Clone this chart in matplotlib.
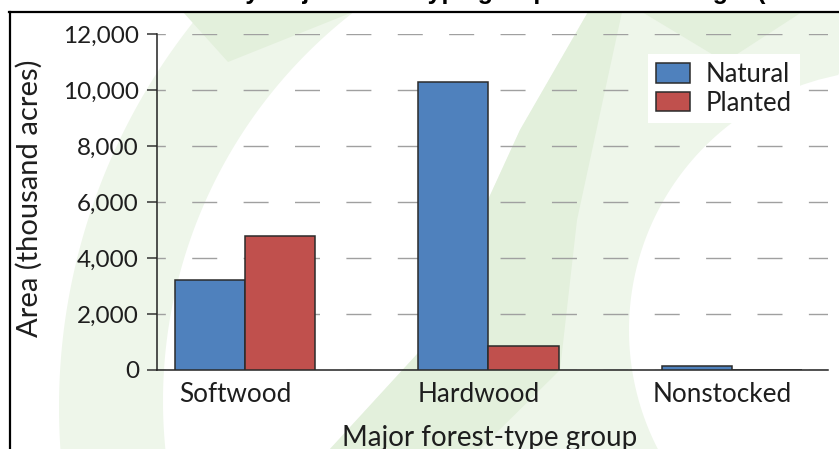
import numpy as np
import matplotlib
matplotlib.use("Agg")
import matplotlib.pyplot as plt
import matplotlib.transforms as mtransforms
from matplotlib.patches import Polygon
from matplotlib.lines import Line2D

# ---- data -------------------------------------------------------------
groups = ["Softwood", "Hardwood", "Nonstocked"]
natural = [3220, 10300, 140]
planted = [4790, 860, 0]
series_names = ["Natural", "Planted"]
yticks = [0, 2000, 4000, 6000, 8000, 10000, 12000]
title = "Area of timberland by major forest-type group and stand origin (thousand acres)"
ylabel = "Area (thousand acres)"
xlabel = "Major forest-type group"

# ---- figure -----------------------------------------------------------
W, H, DPI = 839, 449, 100
plt.rcParams["font.family"] = ["Lato", "DejaVu Sans"]
fig = plt.figure(figsize=(W / DPI, H / DPI), dpi=DPI)
TXT = "#1e1e1e"


def px(x, y):
    """top-left pixel coordinates -> figure fraction"""
    return (x / W, 1 - y / H)


def fig_poly(points, color):
    pts = [px(x, y) for x, y in points]
    p = Polygon(pts, closed=True, transform=fig.transFigure, facecolor=color,
                edgecolor="none", zorder=-5)
    fig.patches.append(p)


def arc_pts(cx, cy, r, y0, y1, n=80):
    ys = np.linspace(y0, y1, n)
    xs = cx - np.sqrt(np.clip(r ** 2 - (ys - cy) ** 2, 0, None))
    return list(zip(xs, ys))


# faint green watermark shapes behind the plot
light = "#eef6ea"
mid = "#e3f0dc"
# left sweeping band
outer = arc_pts(678, 407, 619, 12, 449)
inner = arc_pts(655, 401, 492, 449, 12)
fig_poly(outer + inner, light)
fig_poly([(183, 12), (353, 12), (228, 62)], mid)
# right sweeping band
right_edge = arc_pts(889, 330, 260, 449, 75)
left_edge = [(588, 12), (520, 130), (465, 250), (430, 340), (330, 449)]
fig_poly(left_edge + right_edge + [(839, 73), (839, 12)], light)
fig_poly([(588, 12), (622, 12), (577, 220), (560, 370), (480, 449), (330, 449),
          (430, 340), (465, 250), (520, 130)], mid)
fig_poly([(642, 12), (802, 12), (725, 62)], mid)

# frame lines (left and top)
fig.add_artist(Line2D([9.5 / W, 9.5 / W], [0, 1 - 12 / H], transform=fig.transFigure,
                      color="black", lw=1.6, zorder=5))
fig.add_artist(Line2D([9 / W, 1], [1 - 12 / H, 1 - 12 / H], transform=fig.transFigure,
                      color="black", lw=1.6, zorder=5))

# title, running past the top edge
fig.text(2 / W, 1 + 1.5 / H, title, ha="left", va="baseline", fontsize=18,
         fontweight="bold", family=["Liberation Sans", "DejaVu Sans"], color="black")

# ---- axes -------------------------------------------------------------
left, right, top, bottom = 157, 828, 34, 370
ax = fig.add_axes([left / W, 1 - bottom / H, (right - left) / W, (bottom - top) / H])
ax.set_zorder(2)
ax.set_facecolor("none")

x = np.arange(len(groups))
w = 0.2875
ax.bar(x - w / 2, natural, w, color="#4f81bd", edgecolor="#2b2b2b", linewidth=1.1,
       label=series_names[0], zorder=3)
ax.bar(x + w / 2, planted, w, color="#c0504d", edgecolor="#2b2b2b", linewidth=1.1,
       label=series_names[1], zorder=3)

ax.set_xlim(-0.361, 2.394)
ax.set_ylim(0, 12000)
ax.set_yticks(yticks)
ax.set_yticklabels([f"{v:,}" for v in yticks], fontsize=17.5, color=TXT)
ax.set_xticks(x)
ax.set_xticklabels(groups, fontsize=18.8, color=TXT)
ax.tick_params(axis="x", length=0, pad=9)
ax.tick_params(axis="y", length=7, width=1.1, color="#333333", pad=6)

# category names sit slightly left of the group centres
shift = mtransforms.ScaledTranslation(-10 / DPI, 0, fig.dpi_scale_trans)
for lab in ax.get_xticklabels():
    lab.set_transform(lab.get_transform() + shift)

ax.set_axisbelow(True)
ax.yaxis.grid(True, color="#a0a0a0", lw=1.0, linestyle=(12, (18, 19)))
ax.xaxis.grid(False)

for s in ("top", "right"):
    ax.spines[s].set_visible(False)
for s in ("left", "bottom"):
    ax.spines[s].set_color("#222222")
    ax.spines[s].set_linewidth(1.1)

# axis titles placed in figure pixels
fig.text(*px(29, 198), ylabel, rotation=90, ha="center", va="center",
         fontsize=21, color=TXT)
fig.text(*px(490, 446), xlabel, ha="center", va="baseline", fontsize=20, color=TXT)

leg = ax.legend(loc="upper left", bbox_to_anchor=px(648, 54), bbox_transform=fig.transFigure,
                fontsize=18.5, frameon=True, fancybox=False, framealpha=1,
                handlelength=1.35, handleheight=0.8, handletextpad=0.6,
                borderpad=0.3, labelspacing=0.15, borderaxespad=0)
leg.get_frame().set_edgecolor("none")
leg.get_frame().set_facecolor("white")
for t in leg.get_texts():
    t.set_color(TXT)

fig.savefig("out.png", dpi=DPI)
